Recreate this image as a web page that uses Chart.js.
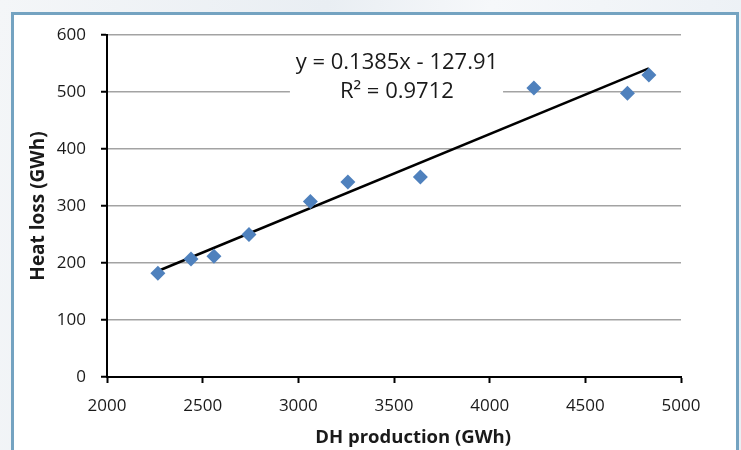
<!DOCTYPE html>
<html>
<head>
<meta charset="utf-8">
<script src="https://cdn.jsdelivr.net/npm/chart.js@4.4.1/dist/chart.umd.min.js"></script>
<style>
    html, body { margin: 0; padding: 0; }
    body {
        width: 741px; height: 450px; overflow: hidden; position: relative;
        background: linear-gradient(100deg, #f4f6f8 0%, #e9eef3 40%, #f6f8fa 60%, #eaeff4 100%);
    }
    .panel {
        position: absolute; left: 11px; top: 12px; width: 722px; height: 460px;
        background: #fff; border: 3px solid #74a3c1;
    }
    #chart { position: absolute; left: 0; top: 0; }
</style>
</head>
<body>
<div class="panel"></div>
<canvas id="chart" width="741" height="450"></canvas>
<script>
// --- data ---
const dhProduction = [2266, 2439, 2559, 2742, 3063, 3259, 3638, 4231, 4720, 4832];
const heatLoss     = [182, 207, 212, 250, 308, 342, 351, 507, 498, 530];

// linear trendline as printed on the chart
const slope = 0.1385;
const intercept = -127.91;
const eqLines = ['y = 0.1385x - 127.91', 'R² = 0.9712'];

const xTitle = 'DH production (GWh)';
const yTitle = 'Heat loss (GWh)';

const font = '"Open Sans", "Liberation Sans", sans-serif';

const points = dhProduction.map((x, i) => ({ x: x, y: heatLoss[i] }));
const xMin = Math.min(...dhProduction);
const xMax = Math.max(...dhProduction);
const trend = [
    { x: xMin, y: slope * xMin + intercept },
    { x: xMax, y: slope * xMax + intercept }
];

// equation label on a white box hiding the gridline, plus the x title
// (the x title sits a bit right of the axis centre in the original)
const chartText = {
    id: 'chartText',
    afterDatasetsDraw(chart) {
        const { ctx, scales: { x, y } } = chart;
        ctx.save();
        const l = x.getPixelForValue(2956), r = x.getPixelForValue(4070);
        const t = y.getPixelForValue(580), b = y.getPixelForValue(478);
        ctx.fillStyle = '#fff';
        ctx.fillRect(l, t, r - l, b - t);
        ctx.fillStyle = '#1a1a1a';
        ctx.font = '22px ' + font;
        ctx.textAlign = 'center';
        ctx.textBaseline = 'middle';
        const cx = x.getPixelForValue(3515);
        ctx.fillText(eqLines[0], cx, y.getPixelForValue(551));
        ctx.fillText(eqLines[1], cx, y.getPixelForValue(500));

        ctx.font = 'bold 18.5px ' + font;
        ctx.fillText(xTitle, x.getPixelForValue(3600), 438);
        ctx.restore();
    }
};

new Chart(document.getElementById('chart'), {
    type: 'scatter',
    data: {
        datasets: [
            {
                label: 'Trend',
                type: 'line',
                data: trend,
                borderColor: '#000',
                borderWidth: 2.5,
                pointRadius: 0,
                fill: false,
                order: 2
            },
            {
                label: 'Heat loss',
                data: points,
                pointStyle: 'rectRot',
                pointRadius: 7.5,
                pointHoverRadius: 7.5,
                backgroundColor: '#4f81bd',
                borderColor: '#4f81bd',
                borderWidth: 0,
                order: 1
            }
        ]
    },
    options: {
        responsive: false,
        animation: false,
        layout: { padding: { left: 0, right: 60, top: 35, bottom: 0 } },
        plugins: { legend: { display: false }, tooltip: { enabled: false } },
        scales: {
            x: {
                type: 'linear',
                min: 2000, max: 5000,
                afterFit: s => { s.height = 73; },
                ticks: {
                    stepSize: 500, color: '#1a1a1a', padding: 13,
                    font: { family: font, size: 17 },
                    callback: v => String(v)
                },
                grid: { drawOnChartArea: false, drawTicks: true, tickLength: 6, tickColor: '#000', tickWidth: 2 },
                border: { color: '#000', width: 2 }
            },
            y: {
                min: 0, max: 600,
                afterFit: s => { s.width = 107; },
                ticks: {
                    stepSize: 100, color: '#1a1a1a', padding: 15,
                    font: { family: font, size: 17 },
                    callback: v => String(v)
                },
                grid: {
                    color: c => c.tick.value === 0 ? 'rgba(0,0,0,0)' : '#a3a3a3',
                    lineWidth: 1.5,
                    drawTicks: true, tickLength: 6, tickColor: '#000', tickWidth: 2
                },
                border: { color: '#000', width: 2 },
                title: {
                    display: true, text: yTitle, color: '#1a1a1a',
                    font: { family: font, size: 19, weight: 'bold' },
                    padding: { top: 27, bottom: 0 }
                }
            }
        }
    },
    plugins: [chartText]
});
</script>
</body>
</html>
